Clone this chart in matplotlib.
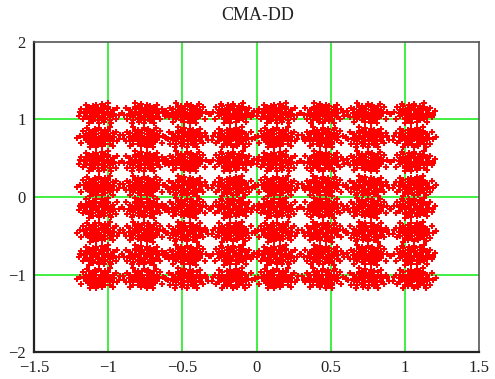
import numpy as np
import matplotlib
matplotlib.use("Agg")
import matplotlib.pyplot as plt

# Data -------------------------------------------------------------
title = "CMA-DD"
x_centers = [-1.06, -0.76, -0.47, -0.16, 0.14, 0.45, 0.75, 1.06]
y_centers = [1.08, 0.77, 0.46, 0.14, -0.14, -0.45, -0.75, -1.05]
# hand-read cloud shape around each constellation point (hundredths)
blob_dx = [-10, -8, -5, -3, 0, 3, 5, 8, 10,
           -9, -7, -4, -2, 1, 3, 6, 9,
           -9, -6, -4, -1, 2, 4, 7, 9,
           -7, -4, -2, 1, 3, 6,
           -6, -4, -1, 2, 4, 7,
           -2, 2, 4,
           -4, 0, 3,
           -6, -2, 2, 6, -5, 0, 5,
           -13, 13, 12, -11, 8, -9, 15, -12, 11, -14, 6, -7]
blob_dy = [0, 1, -1, 0, 1, -1, 0, 1, -1,
           5, 4, 5, 6, 4, 5, 6, 4,
           -5, -4, -6, -5, -4, -6, -5, -4,
           8, 9, 8, 7, 9, 8,
           -8, -7, -9, -8, -7, -9,
           11, 12, 10,
           -10, -12, -11,
           2, -2, 3, -2, -3, 3, 2,
           2, -2, 7, -7, -12, 11, 1, 5, -8, -3, 13, -13]
x_ticks = [-1.5, -1, -0.5, 0, 0.5, 1, 1.5]
y_ticks = [-2, -1, 0, 1, 2]

# Build points -----------------------------------------------------
bdx = np.array(blob_dx) / 100.0
bdy = np.array(blob_dy) / 100.0
xs, ys = [], []
for i, cx in enumerate(x_centers):
    for j, cy in enumerate(y_centers):
        s = 1 if (i + j) % 2 == 0 else -1
        t = 1 if (i // 2 + j) % 2 == 0 else -1
        xs.append(cx + s * bdx)
        ys.append(cy + t * bdy)
xs = np.concatenate(xs)
ys = np.concatenate(ys)

fig = plt.figure(figsize=(4.95, 3.79), dpi=100)
ax = fig.add_axes([0.0687, 0.0712, 0.899, 0.818])

for v in [-1, -0.5, 0, 0.5, 1]:
    ax.axvline(v, color="#33ee33", lw=1.3, zorder=1)
for v in [-1, 0, 1]:
    ax.axhline(v, color="#33ee33", lw=1.3, zorder=1)

ax.plot(xs, ys, linestyle="none", marker="P", markersize=4.3,
        color="#ff0000", markeredgewidth=0, zorder=2)

ax.set_xlim(-1.5, 1.5)
ax.set_ylim(-2, 2)
ax.set_xticks(x_ticks)
ax.set_yticks(y_ticks)
ax.set_xticklabels(["\u22121.5", "\u22121", "\u22120.5", "0", "0.5", "1", "1.5"])
ax.set_yticklabels(["\u22122", "\u22121", "0", "1", "2"])
ax.tick_params(length=0, labelsize=12, pad=6)
for lab in ax.get_xticklabels() + ax.get_yticklabels():
    lab.set_family("Liberation Serif")
    lab.set_color("#222222")

for side in ["left", "bottom"]:
    ax.spines[side].set_color("#222222")
    ax.spines[side].set_linewidth(1.6)
for side in ["top", "right"]:
    ax.spines[side].set_color("#555555")
    ax.spines[side].set_linewidth(1.2)

fig.text(0.521, 0.958, title, ha="center", va="center",
         family="Liberation Serif", fontsize=13, color="#222222")

fig.savefig("out.png", dpi=100)
